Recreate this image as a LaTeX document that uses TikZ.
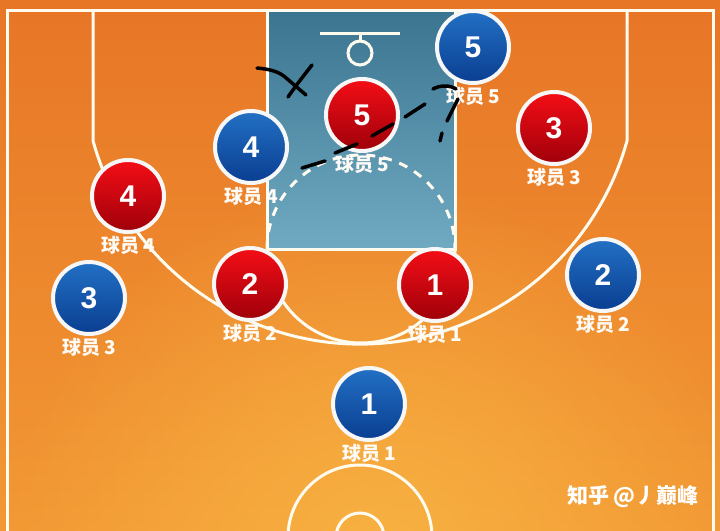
\documentclass[tikz,border=0pt]{standalone}
\usepackage{fontspec}
\setmainfont{Liberation Sans}
\newfontfamily\cjk{Noto Sans CJK SC}
\usetikzlibrary{positioning,shadows,fadings}
\definecolor{courttop}{RGB}{231,118,38}
\definecolor{courtmid}{RGB}{240,145,50}
\definecolor{courtbot}{RGB}{242,152,52}
\definecolor{courtglow}{RGB}{248,178,66}
\definecolor{courtline}{RGB}{255,251,238}
\definecolor{painttop}{RGB}{58,116,143}
\definecolor{paintbot}{RGB}{112,170,194}
\definecolor{redtop}{RGB}{244,14,22}
\definecolor{redbot}{RGB}{158,0,10}
\definecolor{bluetop}{RGB}{34,112,196}
\definecolor{bluebot}{RGB}{10,62,145}
\tikzfading[name=glowfade, inner color=transparent!0, outer color=transparent!100]
\tikzset{
  court/.style={draw=courtline, line width=3pt},
  player/.style={circle, draw=white!94!gray, line width=4pt, minimum size=72pt,
    inner sep=0pt, top color=#1top, bottom color=#1bot, text=white,
    font=\bfseries\fontsize{30}{30}\selectfont,
    drop shadow={opacity=.3, shadow xshift=0pt, shadow yshift=-2pt}},
  tag/.style={text=white!97!orange, font=\cjk\bfseries\fontsize{19}{19}\selectfont, inner sep=1pt},
  scribble/.style={draw=black, line width=3.5pt, line cap=round, line join=round}
}
\begin{document}
\begin{tikzpicture}[x=1pt,y=-1pt]
  \useasboundingbox (0,0) rectangle (720,530);
  % floor and paint
  \shade[top color=courttop, middle color=courtmid, bottom color=courtbot] (0,0) rectangle (720,530);
  \fill[courtglow, path fading=glowfade] (380,560) circle[radius=380];
  \shade[top color=painttop, bottom color=paintbot] (267,10) rectangle (455,249);
  % lines
  \draw[court] (7,540) -- (7,10) -- (713,10) -- (713,540);
  \draw[court] (93,10) -- (93,140.6) arc[start angle=164.6, end angle=15.4, radius=277] -- (627,10);
  \draw[court] (267,10) rectangle (455,249);
  \draw[court] (267,249) arc[start angle=180, end angle=0, radius=94];
  \draw[court, dash pattern=on 9pt off 8pt] (267,249) arc[start angle=180, end angle=360, radius=94];
  \draw[court] (320,33) -- (400,33) (360,33) -- (360,41);
  \draw[court] (360,53) circle[radius=12];
  \draw[court] (360,537) circle[radius=72] (360,537) circle[radius=24];
  % players
  \foreach \n/\x/\y in {1/435/285, 2/250/284, 3/554/128, 4/128/196, 5/362/115}{
    \node[player=red] (red\n) at (\x,\y) {\n};
    \node[tag, below=1pt of red\n] (redtag\n) {球员 \n};
  }
  \foreach \n/\x/\y in {1/369/404, 2/603/275, 3/89/298, 4/251/147, 5/473/47}{
    \node[player=blue] (blue\n) at (\x,\y) {\n};
    \node[tag, below=1pt of blue\n] (bluetag\n) {球员 \n};
  }
  % hand marks
  \draw[scribble] (257,68) .. controls (268,69) and (278,71) .. (285,77) -- (306,95);
  \draw[scribble] (312,65) .. controls (305,74) and (297,84) .. (288,97);
  \draw[scribble] (302,168) -- (325,161) (335,153) -- (357,144) (372,136) -- (393,124)
    (405,117) -- (425,104) (433,89) .. controls (440,85) and (450,85) .. (456,89)
    (458,99) -- (447,121) (442,133) -- (440,141);
  \node[text=white, font=\cjk\bfseries\fontsize{21}{21}\selectfont] (mark) at (633,497) {知乎 @丿巅峰};
\end{tikzpicture}
\end{document}
